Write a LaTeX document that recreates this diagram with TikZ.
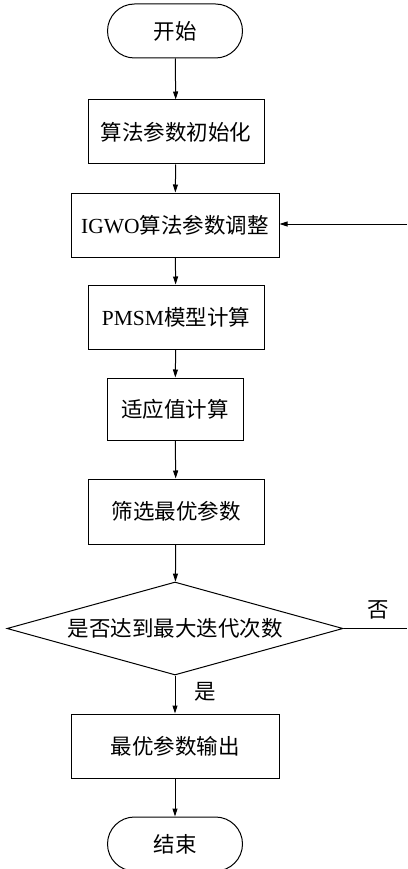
\documentclass[tikz,border=0pt]{standalone}
\usepackage{fontspec}
\setmainfont{Liberation Serif}
\newfontfamily\cjk{Noto Sans CJK SC}[FakeBold=0]
\usetikzlibrary{shapes.geometric,arrows.meta}
\tikzset{
  base/.style={draw, line width=1pt, inner sep=0pt, font=\fontsize{21.5}{26}\selectfont\cjk},
  procbox/.style={base, rectangle, minimum height=64pt},
  term/.style={base, rectangle, rounded corners=27pt, minimum width=135pt, minimum height=54pt},
  decide/.style={draw, line width=1pt, diamond, inner sep=0pt, minimum width=336pt, minimum height=93pt},
  txt/.style={font=\fontsize{21.5}{26}\selectfont\cjk, inner sep=0pt},
  flow/.style={line width=1pt, -{Triangle[length=8pt,width=5pt]}},
  plain/.style={line width=1pt}
}
\begin{document}
\begin{tikzpicture}[x=1pt,y=-1pt]
\useasboundingbox (0,0) rectangle (407,869);
\node[term] (start) at (175,31) {开始};
\node[procbox, minimum width=176pt] (init) at (176,132) {算法参数初始化};
\node[procbox, minimum width=208pt] (adj) at (175,225) {{\fontspec{Liberation Serif}IGWO}算法参数调整};
\node[procbox, minimum width=176pt] (pmsm) at (176,317) {{\fontspec{Liberation Serif}PMSM}模型计算};
\node[procbox, minimum width=136pt, minimum height=62pt] (fit) at (175,409) {适应值计算};
\node[procbox, minimum width=176pt, minimum height=65pt] (sel) at (176,511.5) {筛选最优参数};
\node[decide] (dec) at (175,628.5) {};
\node[txt] (dectext) at (dec.center) {是否达到最大迭代次数};
\node[procbox, minimum width=208pt] (out) at (175,746) {最优参数输出};
\node[term] (stop) at (175,844) {结束};
\coordinate (noend) at (407,628.5);
\coordinate (backin) at (407,224);
\node[txt] (nolab) at (378,610) {否};
\node[txt] (yeslab) at (205,692) {是};
\draw[flow] (start) -- (init);
\draw[flow] (init) -- (adj);
\draw[flow] (adj) -- (pmsm);
\draw[flow] (pmsm) -- (fit);
\draw[flow] (fit) -- (sel);
\draw[flow] (sel) -- (dec);
\draw[flow] (dec) -- (out);
\draw[flow] (out) -- (stop);
\draw[plain] (dec.east) -- (noend);
\draw[flow] (backin) -- (adj.east |- backin);
\end{tikzpicture}
\end{document}
